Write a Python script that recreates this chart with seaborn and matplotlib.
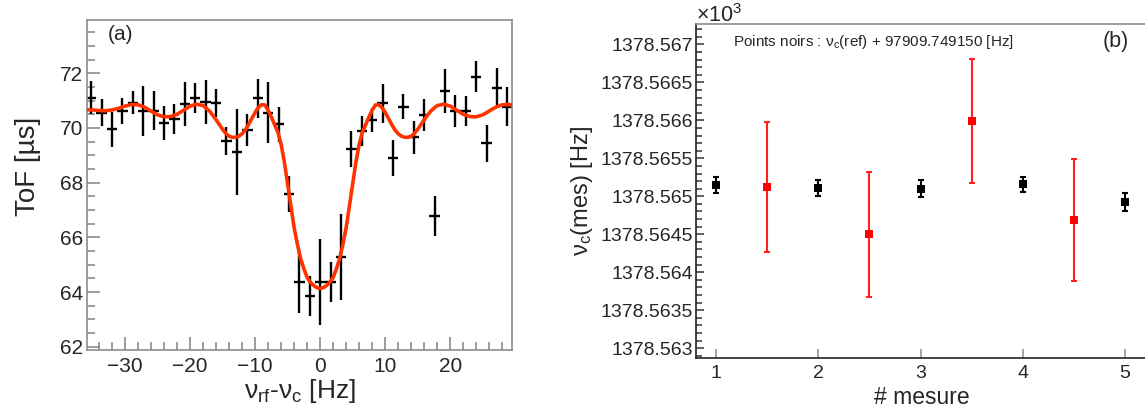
import numpy as np
import matplotlib
matplotlib.use('Agg')
import matplotlib.pyplot as plt
from matplotlib.ticker import MultipleLocator, FuncFormatter
import seaborn as sns

sns.set_theme(style='ticks')
plt.rcParams['font.family'] = ['Liberation Sans', 'DejaVu Sans']
plt.rcParams['mathtext.fontset'] = 'custom'
plt.rcParams['mathtext.rm'] = 'Liberation Sans'
plt.rcParams['mathtext.it'] = 'Liberation Sans:italic'
plt.rcParams['mathtext.bf'] = 'Liberation Sans:bold'

# (a) points de mesure ToF
freq = [-35.2, -33.6, -32.0, -30.4, -28.8, -27.2, -25.6, -24.0, -22.4, -20.8,
        -19.2, -17.6, -16.0, -14.4, -12.8, -11.2, -9.6, -8.0, -6.4, -4.8,
        -3.2, -1.6, 0.0, 1.6, 3.2, 4.8, 6.4, 8.0, 9.6, 11.2,
        12.8, 14.4, 16.0, 17.6, 19.2, 20.8, 22.4, 24.0, 25.6, 27.2, 28.8]
tof = [71.11, 70.56, 69.96, 70.62, 70.93, 70.62, 70.63, 70.19, 70.32, 70.88,
       71.09, 70.94, 70.90, 69.52, 69.13, 69.93, 71.09, 70.56, 70.13, 67.59,
       64.36, 63.86, 64.36, 64.36, 65.29, 69.22, 69.89, 70.29, 70.90, 68.91,
       70.78, 69.66, 70.48, 66.78, 71.36, 70.63, 70.63, 71.88, 69.44, 71.45, 70.78]
tof_err = [0.60, 0.49, 0.64, 0.49, 0.43, 0.93, 0.72, 0.62, 0.55, 0.79,
           0.55, 0.80, 0.51, 0.51, 1.57, 0.58, 0.71, 1.12, 0.63, 0.66,
           1.13, 0.72, 1.58, 0.73, 1.57, 0.66, 0.55, 0.44, 0.72, 0.66,
           0.46, 0.61, 0.59, 0.72, 0.80, 0.58, 0.55, 0.58, 0.67, 0.73, 0.72]
freq_err = 0.8

# courbe d'ajustement
fit_x = [-36.0, -35.0, -34.0, -33.0, -32.0, -31.0, -30.0, -29.0, -28.0, -27.0,
         -26.0, -25.0, -24.0, -23.0, -22.0, -21.0, -20.0, -19.0, -18.0, -17.0,
         -16.0, -15.0, -14.5, -14.0, -13.5, -13.0, -12.5, -12.0, -11.5, -11.0,
         -10.5, -10.0, -9.5, -9.0, -8.5, -8.0, -7.5, -7.0, -6.5, -6.0,
         -5.5, -5.0, -4.5, -4.0, -3.5, -3.0, -2.5, -2.0, -1.5, -1.0, -0.5, 0.0,
         0.5, 1.0, 1.5, 2.0, 2.5, 3.0, 3.5, 4.0, 4.5, 5.0,
         5.5, 6.0, 6.5, 7.0, 7.5, 8.0, 8.5, 9.0, 9.5, 10.0,
         10.5, 11.0, 11.5, 12.0, 12.5, 13.0, 13.5, 14.0, 14.5, 15.0,
         16.0, 17.0, 18.0, 19.0, 20.0, 21.0, 22.0, 23.0, 24.0, 25.0,
         26.0, 27.0, 28.0, 29.0, 30.0]
fit_y = [70.67, 70.66, 70.64, 70.63, 70.66, 70.72, 70.80, 70.86, 70.85, 70.76,
         70.62, 70.48, 70.41, 70.42, 70.50, 70.65, 70.80, 70.87, 70.82, 70.62,
         70.30, 69.95, 69.80, 69.70, 69.66, 69.66, 69.70, 69.79, 69.93, 70.13,
         70.35, 70.57, 70.75, 70.85, 70.84, 70.65, 70.40, 70.12, 69.85, 69.40,
         68.75, 67.95, 67.15, 66.35, 65.75, 65.22, 64.85, 64.53, 64.36, 64.24, 64.16, 64.13,
         64.16, 64.24, 64.36, 64.53, 64.85, 65.22, 65.75, 66.35, 67.15, 67.95,
         68.75, 69.40, 69.85, 70.12, 70.40, 70.65, 70.84, 70.85, 70.75, 70.57,
         70.35, 70.13, 69.93, 69.79, 69.70, 69.66, 69.66, 69.70, 69.80, 69.95,
         70.30, 70.62, 70.82, 70.87, 70.80, 70.65, 70.50, 70.42, 70.41, 70.48,
         70.62, 70.76, 70.85, 70.86, 70.80]

# (b) mesures de nu_c (x10^3 Hz)
noir_x = [1, 2, 3, 4, 5]
noir_y = [1378.56515, 1378.56511, 1378.56510, 1378.56516, 1378.56493]
noir_err = [0.00011, 0.00011, 0.00011, 0.00010, 0.00012]
rouge_x = [1.5, 2.5, 3.5, 4.5]
rouge_y = [1378.56512, 1378.56450, 1378.56599, 1378.56469]
rouge_err = [0.00086, 0.00082, 0.00082, 0.00080]

W, H = 1145, 413
fig = plt.figure(figsize=(W / 100, H / 100), dpi=100)
ax1 = fig.add_axes([87 / W, 1 - 350 / H, 425 / W, 330 / H])
ax2 = fig.add_axes([696 / W, 1 - 358 / H, 449 / W, 334 / H])

gris = '#8c8c8c'

# ---- panneau (a)
ax1.errorbar(freq, tof, xerr=freq_err, yerr=tof_err, fmt='none',
             ecolor='black', elinewidth=1.7, capsize=0, zorder=2)
sns.lineplot(x=fit_x, y=fit_y, ax=ax1, color='#ff3300', lw=2.6, zorder=3)
ax1.set_xlim(-35.85, 29.5)
ax1.set_ylim(61.88, 73.95)
ax1.xaxis.set_major_locator(MultipleLocator(10))
ax1.xaxis.set_minor_locator(MultipleLocator(2))
ax1.yaxis.set_major_locator(MultipleLocator(2))
ax1.yaxis.set_minor_locator(MultipleLocator(0.5))
ax1.tick_params(which='both', direction='in', color=gris, labelsize=15, width=1.2)
ax1.tick_params(which='major', length=9.5)
ax1.tick_params(which='minor', length=5.5)
ax1.tick_params(axis='x', pad=5)
ax1.tick_params(axis='y', pad=3)
for s in ax1.spines.values():
    s.set_color(gris)
    s.set_linewidth(1.2)
ax1.set_xlabel(r'ν$_{\rm rf}$-ν$_{\rm c}$ [Hz]', fontsize=19)
ax1.set_ylabel('ToF [µs]', fontsize=20)
ax1.xaxis.set_label_coords(0.5, -0.083)
ax1.yaxis.set_label_coords(-0.108, 0.555)
ax1.text(0.078, 0.955, '(a)', transform=ax1.transAxes, fontsize=15,
         ha='center', va='center')

# ---- panneau (b)
ax2.errorbar(noir_x, noir_y, yerr=noir_err, fmt='none', ecolor='black',
             elinewidth=1.5, capsize=2, capthick=1.5, zorder=2)
sns.scatterplot(x=noir_x, y=noir_y, ax=ax2, color='black', marker='s', s=36,
                edgecolor='black', linewidth=0, zorder=3)
ax2.errorbar(rouge_x, rouge_y, yerr=rouge_err, fmt='none', ecolor='#ff2020',
             elinewidth=1.5, capsize=2, capthick=1.5, zorder=2)
sns.scatterplot(x=rouge_x, y=rouge_y, ax=ax2, color='#ff0000', marker='s', s=36,
                edgecolor='#ff0000', linewidth=0, zorder=3)
ax2.set_xlim(0.8, 5.2)
ax2.set_ylim(1378.56287, 1378.56727)
ax2.xaxis.set_major_locator(MultipleLocator(1))
ax2.yaxis.set_major_locator(MultipleLocator(0.0005))
ax2.yaxis.set_minor_locator(MultipleLocator(0.0001))
ax2.yaxis.set_major_formatter(FuncFormatter(lambda v, p: f'{v:.4f}'.rstrip('0').rstrip('.')))
ax2.tick_params(which='both', direction='in', labelsize=14, width=1.1)
ax2.tick_params(axis='y', which='major', length=6, pad=2, color='#333333')
ax2.tick_params(axis='y', which='minor', length=4, color='#333333')
ax2.tick_params(axis='x', which='major', length=6.5, pad=5, color=gris)
ax2.spines['left'].set_color('#222222')
ax2.spines['bottom'].set_color('#222222')
ax2.spines['top'].set_color(gris)
ax2.spines['right'].set_visible(False)
for s in ax2.spines.values():
    s.set_linewidth(1.2)
ax2.set_xlabel('# mesure', fontsize=16.5)
ax2.set_ylabel(r'ν$_{\rm c}$(mes) [Hz]', fontsize=17)
ax2.xaxis.set_label_coords(0.502, -0.085)
ax2.yaxis.set_label_coords(-0.225, 0.5)
ax2.text(0.082, 0.947, r'Points noirs : ν$_{\rm c}$(ref) + 97909.749150 [Hz]',
         transform=ax2.transAxes, fontsize=11, ha='left', va='center')
ax2.text(0.935, 0.947, '(b)', transform=ax2.transAxes, fontsize=15.5,
         ha='center', va='center')
fig.text(696 / W, 1 - 22.5 / H, r'×10$^{3}$', fontsize=15.5, ha='left', va='baseline')

fig.savefig('out.png', dpi=100)
